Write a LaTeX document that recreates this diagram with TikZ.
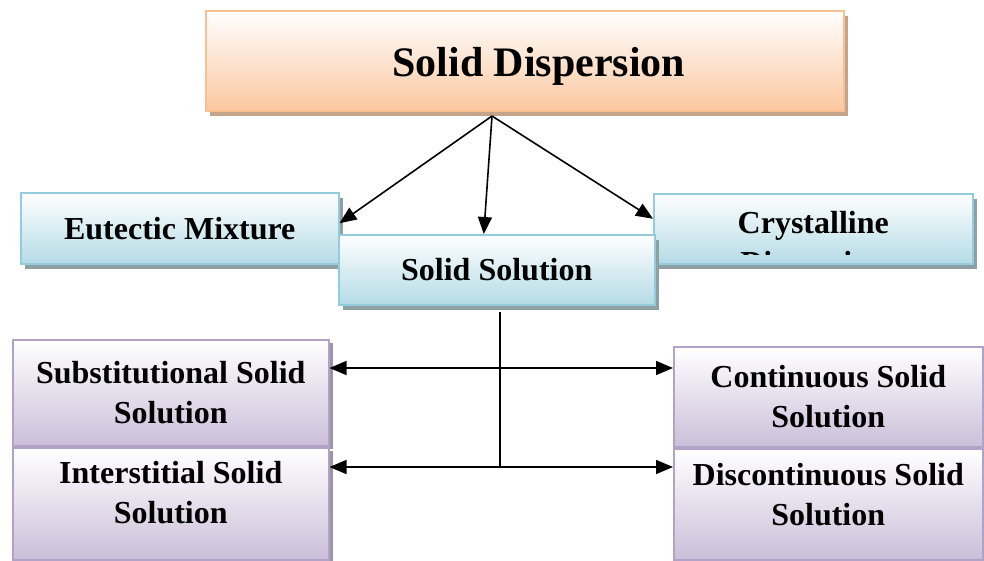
\documentclass[tikz,border=0pt]{standalone}
\usepackage{fontspec}
\setmainfont{Liberation Serif}
\usetikzlibrary{shadows,arrows.meta}

\definecolor{peach}{HTML}{FBC8A0}
\definecolor{peachline}{HTML}{FAC08F}
\definecolor{peachshade}{HTML}{C4A58C}
\definecolor{iceblue}{HTML}{B4DBE6}
\definecolor{iceline}{HTML}{93CDDD}
\definecolor{iceshade}{HTML}{8FA0A5}
\definecolor{lilac}{HTML}{CBBFD9}
\definecolor{lilacline}{HTML}{B3A2C7}
\definecolor{lilacshade}{HTML}{9C94A6}

\begin{document}
\begin{tikzpicture}[x=1pt,y=-1pt,
  box/.style={draw, line width=1.5pt, anchor=north west, inner sep=0pt, align=center,
    font=\bfseries\fontsize{32}{40}\selectfont},
  orangebox/.style={box, draw=peachline, top color=white, bottom color=peach,
    drop shadow={shadow xshift=4pt, shadow yshift=-5pt, fill=peachshade, opacity=1}},
  bluebox/.style={box, draw=iceline, top color=white, bottom color=iceblue,
    drop shadow={shadow xshift=4pt, shadow yshift=-5pt, fill=iceshade, opacity=1}},
  lilacbox/.style={box, draw=lilacline, top color=white, bottom color=lilac,
    drop shadow={shadow xshift=4pt, shadow yshift=-3pt, fill=lilacshade, opacity=1}},
  tip/.style={Triangle[length=17pt,width=14pt]},
  arr/.style={line width=1.6pt, -{Triangle[length=17pt,width=14pt]}},
  dbl/.style={line width=1.6pt, {Triangle[length=17pt,width=14pt]}-{Triangle[length=17pt,width=14pt]}}
]
\useasboundingbox (0,0) rectangle (984,560);

\node[orangebox, minimum width=638pt, minimum height=100pt, text height=40pt,
  font=\bfseries\fontsize{42}{50}\selectfont] (disp) at (205,10) {\hspace*{28pt}Solid Dispersion};

\node[bluebox, minimum width=318pt, minimum height=71pt] (eut) at (20,192) {Eutectic Mixture};
\node[bluebox, minimum width=319pt, minimum height=70pt] (crys) at (653,193) {};
\begin{scope} % second line cut off by the box
  \clip (crys.north west) rectangle ([yshift=10pt]crys.south east);
  \node[align=center, font=\bfseries\fontsize{32}{40}\selectfont] (crystext)
    at ([yshift=-17pt]crys.center) {Crystalline\\Dispersion};
\end{scope}
\node[bluebox, minimum width=316pt, minimum height=70pt] (sol) at (338,234) {Solid Solution};

\node[lilacbox, minimum width=316pt, minimum height=106pt] (subs) at (12,339) {Substitutional Solid\\Solution};
\node[lilacbox, minimum width=316pt, minimum height=112pt, text depth=22pt] (inter) at (12,447) {Interstitial Solid\\Solution};
\node[lilacbox, minimum width=309pt, minimum height=100pt] (cont) at (673,346) {Continuous Solid\\Solution};
\node[lilacbox, minimum width=309pt, minimum height=111pt, text depth=20pt] (disc) at (673,448) {Discontinuous Solid\\Solution};

\coordinate (hub) at (492,116);
\draw[arr] (hub) -- ([yshift=5pt]eut.east);
\draw[arr] (hub) -- ([xshift=-13pt]sol.north);
\draw[arr] (hub) -- ([yshift=10pt]crys.west);

\coordinate (stem) at (500,312);
\coordinate (upper) at (500,368);
\coordinate (lower) at (500,467);
\draw[line width=1.6pt] (stem) -- (lower);
\draw[dbl] (subs.east |- upper) -- (cont.west |- upper);
\draw[dbl] (inter.east |- lower) -- (disc.west |- lower);

\end{tikzpicture}
\end{document}
